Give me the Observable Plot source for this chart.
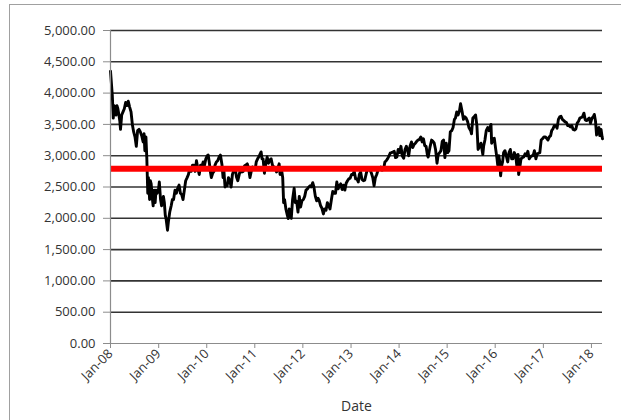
<!DOCTYPE html>
<html>
<head>
<meta charset="utf-8">
<script src="https://cdn.jsdelivr.net/npm/d3@7"></script>
<script src="https://cdn.jsdelivr.net/npm/@observablehq/plot@0.6"></script>
<style>
  html, body { margin: 0; padding: 0; background: #fff; overflow: hidden; }
</style>
</head>
<body>
<div id="chart"></div>
<script>
const dates = [
  "2008-01-01","2008-01-08","2008-01-15","2008-01-22","2008-01-29","2008-02-05","2008-02-12","2008-02-19","2008-02-26","2008-03-05","2008-03-12","2008-03-17","2008-03-26","2008-04-05","2008-04-15","2008-04-25","2008-05-05","2008-05-15","2008-05-25","2008-06-05","2008-06-15","2008-06-25","2008-07-05","2008-07-15","2008-07-25","2008-08-05","2008-08-15","2008-08-25","2008-09-05","2008-09-12","2008-09-18","2008-09-26","2008-10-03","2008-10-10","2008-10-15","2008-10-24","2008-10-30","2008-11-05","2008-11-12","2008-11-20","2008-11-28","2008-12-05","2008-12-12","2008-12-20","2008-12-30",
  "2009-01-06","2009-01-15","2009-01-23","2009-01-30","2009-02-06","2009-02-13","2009-02-20","2009-02-27","2009-03-09","2009-03-16","2009-03-26","2009-04-06","2009-04-15","2009-04-24","2009-05-05","2009-05-15","2009-05-25","2009-06-05","2009-06-15","2009-06-25","2009-07-05","2009-07-15","2009-07-25","2009-08-05","2009-08-15","2009-08-25","2009-09-05","2009-09-15","2009-09-25","2009-10-05","2009-10-15","2009-10-25","2009-11-05","2009-11-15","2009-11-25","2009-12-05","2009-12-15","2009-12-25",
  "2010-01-05","2010-01-12","2010-01-20","2010-01-28","2010-02-05","2010-02-15","2010-02-25","2010-03-05","2010-03-15","2010-03-25","2010-04-05","2010-04-15","2010-04-27","2010-05-05","2010-05-10","2010-05-20","2010-05-25","2010-06-05","2010-06-15","2010-06-25","2010-07-05","2010-07-15","2010-07-25","2010-08-05","2010-08-15","2010-08-25","2010-09-05","2010-09-15","2010-09-25","2010-10-05","2010-10-15","2010-10-25","2010-11-05","2010-11-15","2010-11-25","2010-12-05","2010-12-15","2010-12-25",
  "2011-01-05","2011-01-12","2011-01-25","2011-02-05","2011-02-18","2011-02-25","2011-03-05","2011-03-15","2011-03-25","2011-04-05","2011-04-15","2011-04-25","2011-05-05","2011-05-15","2011-05-25","2011-06-05","2011-06-15","2011-06-25","2011-07-05","2011-07-12","2011-07-25","2011-08-01","2011-08-08","2011-08-15","2011-08-25","2011-09-05","2011-09-12","2011-09-20","2011-09-25","2011-10-05","2011-10-15","2011-10-27","2011-11-05","2011-11-15","2011-11-25","2011-12-05","2011-12-15","2011-12-25",
  "2012-01-05","2012-01-15","2012-01-25","2012-02-05","2012-02-15","2012-02-25","2012-03-05","2012-03-16","2012-03-25","2012-04-05","2012-04-15","2012-04-25","2012-05-05","2012-05-15","2012-05-25","2012-06-05","2012-06-15","2012-06-25","2012-07-05","2012-07-15","2012-07-25","2012-08-05","2012-08-15","2012-08-25","2012-09-05","2012-09-15","2012-09-25","2012-10-05","2012-10-15","2012-10-25","2012-11-05","2012-11-15","2012-11-25","2012-12-05","2012-12-15","2012-12-25",
  "2013-01-05","2013-01-15","2013-01-25","2013-02-05","2013-02-15","2013-02-25","2013-03-05","2013-03-15","2013-03-25","2013-04-05","2013-04-15","2013-04-25","2013-05-05","2013-05-15","2013-05-25","2013-06-05","2013-06-15","2013-06-25","2013-07-05","2013-07-15","2013-07-25","2013-08-05","2013-08-15","2013-08-25","2013-09-05","2013-09-15","2013-09-25","2013-10-05","2013-10-15","2013-10-25","2013-11-05","2013-11-15","2013-11-25","2013-12-05","2013-12-15","2013-12-25",
  "2014-01-05","2014-01-15","2014-01-25","2014-02-05","2014-02-15","2014-02-25","2014-03-05","2014-03-15","2014-03-25","2014-04-05","2014-04-15","2014-04-25","2014-05-05","2014-05-15","2014-05-25","2014-06-05","2014-06-15","2014-06-25","2014-07-05","2014-07-15","2014-07-25","2014-08-05","2014-08-10","2014-08-25","2014-09-05","2014-09-15","2014-09-25","2014-10-05","2014-10-16","2014-10-25","2014-11-05","2014-11-15","2014-11-25","2014-12-05","2014-12-15","2014-12-25",
  "2015-01-05","2015-01-15","2015-01-25","2015-02-05","2015-02-15","2015-02-25","2015-03-05","2015-03-15","2015-03-25","2015-04-05","2015-04-13","2015-04-25","2015-05-05","2015-05-15","2015-05-25","2015-06-05","2015-06-15","2015-06-29","2015-07-05","2015-07-15","2015-07-25","2015-08-05","2015-08-15","2015-08-24","2015-09-05","2015-09-15","2015-09-29","2015-10-05","2015-10-15","2015-10-25","2015-11-05","2015-11-15","2015-11-30","2015-12-05","2015-12-15","2015-12-25",
  "2016-01-05","2016-01-15","2016-01-20","2016-01-28","2016-02-05","2016-02-11","2016-02-20","2016-02-26","2016-03-05","2016-03-15","2016-03-25","2016-04-05","2016-04-15","2016-04-25","2016-05-05","2016-05-15","2016-05-25","2016-06-05","2016-06-15","2016-06-23","2016-06-27","2016-07-05","2016-07-15","2016-07-25","2016-08-05","2016-08-15","2016-08-25","2016-09-05","2016-09-15","2016-09-25","2016-10-05","2016-10-15","2016-10-25","2016-11-05","2016-11-15","2016-11-25","2016-12-05","2016-12-15","2016-12-25",
  "2017-01-05","2017-01-15","2017-01-25","2017-02-05","2017-02-15","2017-02-25","2017-03-05","2017-03-15","2017-03-25","2017-04-05","2017-04-15","2017-04-25","2017-05-05","2017-05-15","2017-05-25","2017-06-05","2017-06-15","2017-06-25","2017-07-05","2017-07-15","2017-07-25","2017-08-05","2017-08-15","2017-08-25","2017-09-05","2017-09-15","2017-09-25","2017-10-05","2017-10-15","2017-10-25","2017-11-05","2017-11-15","2017-11-25","2017-12-05","2017-12-15","2017-12-25",
  "2018-01-05","2018-01-15","2018-01-23","2018-02-01","2018-02-09","2018-02-20","2018-02-27","2018-03-05","2018-03-15","2018-03-23","2018-03-26"
];
const values = [
  4350,4150,3950,3600,3800,3750,3650,3800,3750,3650,3550,3420,3650,3700,3750,3850,3800,3870,3780,3700,3500,3380,3300,3150,3400,3420,3380,3320,3220,3350,3080,3300,2950,2400,2650,2300,2600,2550,2350,2200,2450,2250,2450,2400,2450,
  2580,2300,2200,2300,2350,2250,2050,1980,1810,1950,2100,2200,2300,2300,2450,2400,2480,2530,2400,2380,2300,2450,2600,2650,2700,2800,2750,2850,2850,2750,2920,2800,2700,2850,2830,2900,2850,2950,
  3000,3010,2900,2750,2650,2720,2750,2850,2900,2920,2980,3010,2850,2650,2800,2500,2550,2520,2650,2600,2500,2700,2760,2800,2660,2600,2700,2780,2740,2750,2840,2850,2870,2800,2650,2750,2820,2800,
  2800,2900,2960,3000,3060,2950,2950,2720,2870,2980,2880,2930,2950,2850,2820,2800,2740,2800,2870,2700,2750,2650,2250,2300,2150,2050,1995,2150,2050,2000,2300,2480,2250,2270,2100,2350,2180,2280,
  2300,2350,2450,2470,2500,2520,2500,2570,2500,2350,2280,2320,2280,2200,2160,2070,2150,2130,2250,2200,2150,2300,2430,2400,2400,2580,2470,2520,2550,2460,2530,2450,2560,2600,2630,2640,
  2700,2700,2750,2630,2630,2580,2700,2740,2620,2600,2610,2700,2780,2800,2780,2720,2650,2520,2650,2700,2770,2800,2820,2770,2780,2900,2920,2950,2990,3040,3050,3060,3070,2970,2980,3100,
  3050,3150,3000,2960,3100,3150,3100,3000,3150,3220,3130,3180,3200,3230,3250,3260,3300,3220,3270,3160,3150,3000,2980,3150,3250,3230,3200,3100,2880,3020,3050,3080,3230,3250,2970,3200,
  3050,3080,3380,3400,3450,3580,3600,3700,3650,3720,3830,3700,3580,3620,3600,3550,3450,3400,3350,3600,3620,3650,3480,3100,3150,3200,3020,3150,3250,3400,3450,3400,3500,3200,3250,3280,
  3100,2950,2850,3000,2900,2680,2850,2900,3050,3080,3000,2900,3050,3100,2950,2950,3050,3000,2800,3020,2700,2800,2950,2970,2980,3030,3000,3070,2950,2980,3000,3000,3080,2950,3030,3040,3050,3250,3270,
  3300,3300,3280,3250,3300,3320,3400,3430,3480,3480,3440,3580,3620,3630,3580,3560,3540,3530,3480,3480,3460,3480,3420,3410,3430,3520,3550,3600,3610,3620,3680,3570,3560,3580,3600,3520,
  3600,3620,3660,3550,3330,3440,3450,3320,3420,3300,3270
];
const referenceLevel = [2790];
const yTicks = [0, 500, 1000, 1500, 2000, 2500, 3000, 3500, 4000, 4500, 5000];
const xTickDates = ["2008-01-01","2009-01-01","2010-01-01","2011-01-01","2012-01-01","2013-01-01","2014-01-01","2015-01-01","2016-01-01","2017-01-01","2018-01-01"];
const xTickLabels = ["Jan-08","Jan-09","Jan-10","Jan-11","Jan-12","Jan-13","Jan-14","Jan-15","Jan-16","Jan-17","Jan-18"];
const xTitle = "Date";
const xDomain = ["2008-01-01", "2018-03-26"];

const n = Math.min(dates.length, values.length);
const data = d3.range(n).map(i => ({date: new Date(dates[i]), value: values[i]}));
const tickDates = xTickDates.map(d => new Date(d));
const labelMap = new Map(tickDates.map((d, i) => [+d, xTickLabels[i]]));

const chart = Plot.plot({
  width: 621,
  height: 420,
  marginLeft: 110,
  marginRight: 19,
  marginTop: 30,
  marginBottom: 77,
  style: {fontFamily: "'Open Sans', sans-serif", fontSize: "12px", color: "#333", background: "white"},
  x: {type: "utc", domain: xDomain.map(d => new Date(d))},
  y: {domain: [0, 5000]},
  marks: [
    Plot.ruleY(yTicks.filter(d => d > 0), {stroke: "#333", strokeWidth: 1.6}),
    Plot.line(data, {x: "date", y: "value", stroke: "#000", strokeWidth: 2.9, strokeLinejoin: "round"}),
    Plot.ruleY(referenceLevel, {stroke: "#ff0000", strokeWidth: 6}),
    Plot.ruleY([0], {stroke: "#8c8c8c", strokeWidth: 1.2}),
    Plot.ruleX([new Date(xDomain[0])], {stroke: "#8c8c8c", strokeWidth: 1.2}),
    Plot.axisY({ticks: yTicks, tickFormat: d3.format(",.2f"), tickSize: 7, tickPadding: 8, stroke: "#8c8c8c", fill: "#333", fontSize: 13, label: null}),
    Plot.axisX({ticks: tickDates, tickFormat: d => labelMap.get(+d), tickRotate: -45, tickSize: 5, tickPadding: 3, stroke: "#8c8c8c", fill: "#333", fontSize: 13, label: null}),
    Plot.text([xTitle], {frameAnchor: "bottom", dy: 67, fontSize: 14, fill: "#333"})
  ]
});

d3.select(chart).insert("rect", ":first-child")
  .attr("x", 9.5).attr("y", 4.5).attr("width", 620).attr("height", 420)
  .attr("fill", "none").attr("stroke", "#a0a0a0");

document.getElementById("chart").appendChild(chart);
</script>
</body>
</html>
